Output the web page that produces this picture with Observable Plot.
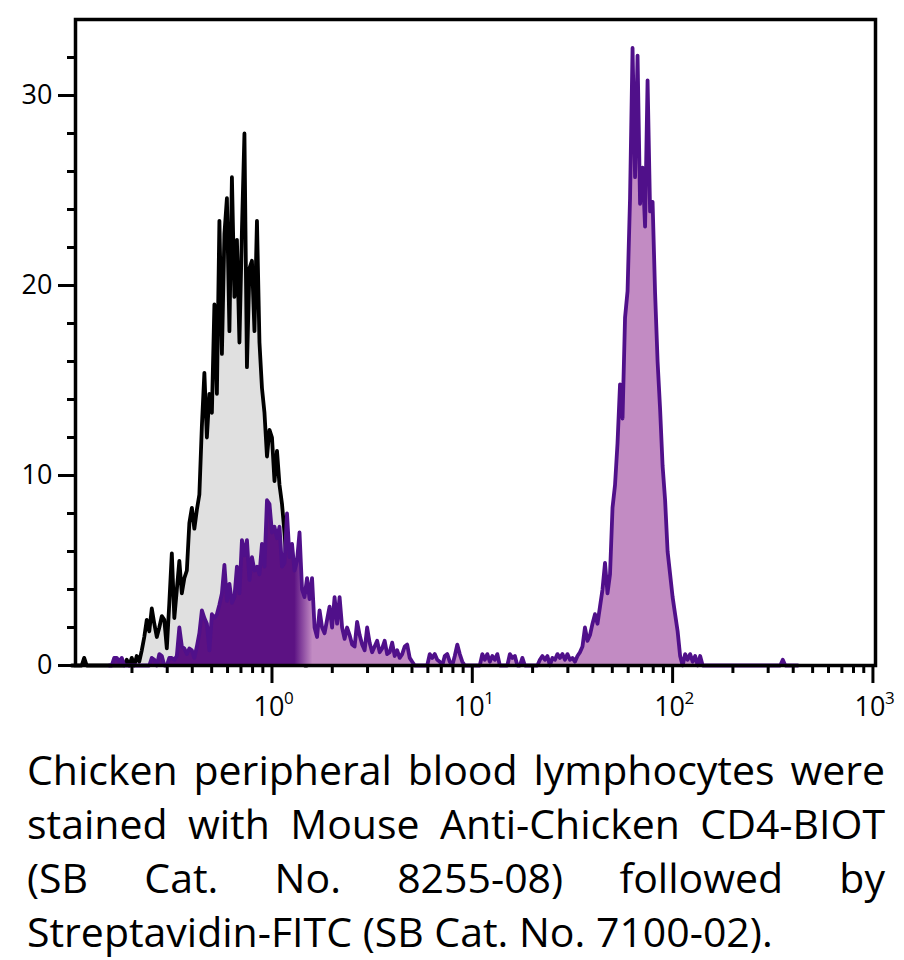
<!DOCTYPE html>
<html>
<head>
<meta charset="utf-8">
<script src="https://cdn.jsdelivr.net/npm/d3@7"></script>
<script src="https://cdn.jsdelivr.net/npm/@observablehq/plot@0.6"></script>
<style>
  html, body { margin: 0; padding: 0; background: #fff; }
  body { position: relative; width: 904px; height: 960px; overflow: hidden; }
  #caption { position: absolute; left: 27px; top: 742px; width: 858px;
    font-family: "Open Sans", sans-serif; font-size: 41px; line-height: 54px; color: #000; }
  .jline { display: flex; justify-content: space-between; white-space: nowrap; }
  .lline { white-space: nowrap; }
</style>
</head>
<body>
<div id="caption"></div>
<script>
// ---- Data ----
// Histogram channels: 80 channels per decade, channel 0 = 10^-1
const channelsPerDecade = 80;
const firstDecade = -1;

// Control (unstained / isotype) histogram, starting at channel 0
const controlStart = 0;
const controlCounts = [
  0, 0, 0, 0, 0, 0.4, 0, 0, 0, 0,
  0, 0, 0, 0, 0, 0, 0, 0, 0, 0,
  0, 0, 0.3, 0, 0.4, 0, 0.5, 0.2, 0.8, 1.5,
  2.4, 1.8, 3.0, 2.2, 1.5, 2.0, 2.6, 2.4, 0.9, 3.3,
  5.9, 2.5, 4.0, 5.5, 3.8, 4.6, 5.0, 7.5, 8.3, 7.2,
  8.2, 9.0, 12.6, 15.4, 12.0, 14.3, 13.3, 19.0, 14.3, 23.4,
  16.4, 22.7, 24.6, 17.6, 25.7, 19.4, 22.4, 17.0, 22.9, 28.0,
  15.7, 20.9, 21.3, 17.6, 23.4, 17.0, 14.6, 13.3, 11.0, 12.4,
  12.0, 9.7, 11.3, 9.5, 8.5, 7.0, 5.0, 4.0, 3.0, 2.0,
  1.2, 0.6, 0.3, 0, 0
];

// Stained (CD4-BIOT + Streptavidin-FITC) histogram, starting at channel 15
const stainedStart = 15;
const stainedCounts = [
  0, 0, 0.4, 0.4, 0.2, 0.4,
  0, 0, 0, 0, 0, 0, 0, 0, 0, 0,
  0, 0.4, 0.3, 0, 0.6, 0.5, 0, 0, 0.4, 0.4,
  0.3, 0.5, 2.0, 1.0, 0.9, 0.6, 0.9, 0.8, 0.4, 1.0,
  1.7, 2.9, 2.5, 2.2, 0.8, 2.7, 2.5, 2.7, 3.2, 3.8,
  5.3, 3.4, 4.3, 3.3, 3.6, 5.2, 3.8, 6.6, 5.8, 6.6,
  4.5, 5.7, 5.0, 5.2, 4.8, 6.4, 5.2, 8.7, 8.5, 7.0,
  7.3, 6.7, 7.3, 5.2, 5.4, 8.0, 5.7, 6.4, 5.0, 5.5,
  7.0, 4.0, 3.6, 4.6, 3.5, 4.6, 2.0, 1.5, 2.9, 2.0,
  1.7, 2.4, 3.1, 2.0, 3.6, 2.2, 3.6, 2.0, 1.4, 2.0,
  1.6, 1.1, 1.0, 2.3, 1.6, 1.1, 0.8, 2.0, 1.2, 0.7,
  1.0, 1.3, 0.7, 0.9, 1.3, 0.6, 0.7, 1.2, 0.5, 0.8,
  0.4, 0.6, 1.0, 1.1, 0.4, 0.2, 0, 0, 0, 0,
  0, 0, 0.6, 0.4, 0.6, 0.3, 0.2, 0, 0.5, 0.6,
  0.2, 0, 0.5, 1.1, 0.6, 0.2, 0, 0, 0, 0,
  0, 0, 0, 0.6, 0.3, 0.6, 0.2, 0.5, 0.3, 0.6,
  0, 0, 0, 0, 0.6, 0.4, 0.5, 0, 0, 0.4,
  0, 0, 0, 0, 0, 0, 0.3, 0.5, 0.3, 0.5,
  0, 0.4, 0.3, 0.6, 0.4, 0.6, 0.3, 0.6, 0.3, 0.4,
  0.2, 0.5, 0.7, 1.0, 2.0, 1.3, 1.6, 2.2, 2.7, 2.2,
  3.1, 4.0, 5.4, 3.8, 4.8, 8.3, 9.5, 11.7, 14.8, 13.0,
  18.3, 19.7, 24.6, 32.5, 25.7, 32.1, 24.3, 26.2, 23.1, 30.8,
  23.9, 24.4, 19.6, 16.0, 13.5, 10.5, 8.7, 6.0, 4.8, 3.6,
  2.7, 1.8, 0.5, 0, 0.6, 0.3, 0.6, 0.2, 0.5, 0,
  0.5, 0, 0, 0, 0, 0, 0, 0, 0, 0,
  0, 0, 0, 0, 0, 0, 0, 0, 0, 0,
  0, 0, 0, 0, 0, 0, 0, 0, 0, 0,
  0, 0, 0, 0.3, 0, 0, 0, 0, 0, 0
];

const yMajorTicks = [0, 10, 20, 30];
const yMinorTicks = [2, 4, 6, 8, 12, 14, 16, 18, 22, 24, 26, 28, 32];
const xMajorTicks = [1, 10, 100, 1000];
const xMajorExponents = ["0", "1", "2", "3"];
const xMinorTicks = [
  0.2, 0.3, 0.4, 0.5, 0.6, 0.7, 0.8, 0.9,
  2, 3, 4, 5, 6, 7, 8, 9,
  20, 30, 40, 50, 60, 70, 80, 90,
  200, 300, 400, 500, 600, 700, 800, 900
];

const captionLines = [
  "Chicken peripheral blood lymphocytes were",
  "stained with Mouse Anti-Chicken CD4-BIOT",
  "(SB Cat. No. 8255-08) followed by",
  "Streptavidin-FITC (SB Cat. No. 7100-02)."
];

// ---- Build tables ----
const toRows = (start, counts) => counts.map((c, i) => ({
  x: Math.pow(10, firstDecade + (start + i) / channelsPerDecade),
  count: c
}));
const control = toRows(controlStart, controlCounts);
const stained = toRows(stainedStart, stainedCounts);

const controlFill = "#e0e0e0";
const stainedLine = "#50108a";
const stainedDark = "#5c1283";
const stainedLight = "#c28bc3";

const chart = Plot.plot({
  width: 904,
  height: 730,
  marginTop: 19,
  marginRight: 29,
  marginBottom: 65,
  marginLeft: 75,
  style: { fontFamily: "'Open Sans', sans-serif", fontSize: "27px", color: "black", background: "white", overflow: "visible" },
  x: { type: "log", domain: [0.1045, 1030], label: null },
  y: { domain: [0, 34], label: null },
  marks: [
    Plot.areaY(control, { x: "x", y: "count", fill: controlFill, curve: "linear" }),
    Plot.lineY(control, { x: "x", y: "count", stroke: "black", strokeWidth: 3.8, curve: "linear", strokeLinejoin: "round" }),
    Plot.areaY(stained, { x: "x", y: "count", fill: "url(#stainedFill)", curve: "linear" }),
    Plot.lineY(stained, { x: "x", y: "count", stroke: stainedLine, strokeWidth: 3.8, curve: "linear", strokeLinejoin: "round" }),
    Plot.axisY(yMinorTicks, { tickSize: 8, strokeWidth: 3, tickFormat: () => "" }),
    Plot.axisY(yMajorTicks, { tickSize: 17, tickPadding: 6, strokeWidth: 3, fontSize: 27 }),
    Plot.axisX(xMinorTicks, { tickSize: 8, strokeWidth: 3, tickFormat: () => "" }),
    Plot.axisX(xMajorTicks, { tickSize: 18, strokeWidth: 3, tickFormat: () => "" }),
    Plot.text(xMajorTicks, { x: d => d, text: () => "10", frameAnchor: "bottom", lineAnchor: "bottom", dy: 50, dx: -3, fontSize: 27 }),
    Plot.text(xMajorTicks, { x: d => d, text: (d, i) => xMajorExponents[i], frameAnchor: "bottom", lineAnchor: "bottom", textAnchor: "start", dy: 38, dx: 12, fontSize: 17 }),
    Plot.frame({ stroke: "black", strokeWidth: 3.5 })
  ]
});

// gradient: the dense low population looks dark, the bright peak light
const xs = chart.scale("x");
const svg = d3.select(chart);
const defs = svg.insert("defs", ":first-child");
const grad = defs.append("linearGradient")
  .attr("id", "stainedFill")
  .attr("gradientUnits", "userSpaceOnUse")
  .attr("x1", xs.apply(1.3)).attr("x2", xs.apply(1.6))
  .attr("y1", 0).attr("y2", 0);
grad.append("stop").attr("offset", 0).attr("stop-color", stainedDark);
grad.append("stop").attr("offset", 1).attr("stop-color", stainedLight);

document.body.insertBefore(chart, document.getElementById("caption"));

// caption: justified lines, last line left-aligned
const cap = document.getElementById("caption");
captionLines.forEach((line, i) => {
  const div = document.createElement("div");
  if (i < captionLines.length - 1) {
    div.className = "jline";
    line.split(" ").forEach(w => {
      const s = document.createElement("span");
      s.textContent = w;
      div.appendChild(s);
    });
  } else {
    div.className = "lline";
    div.textContent = line;
  }
  cap.appendChild(div);
});
</script>
</body>
</html>
